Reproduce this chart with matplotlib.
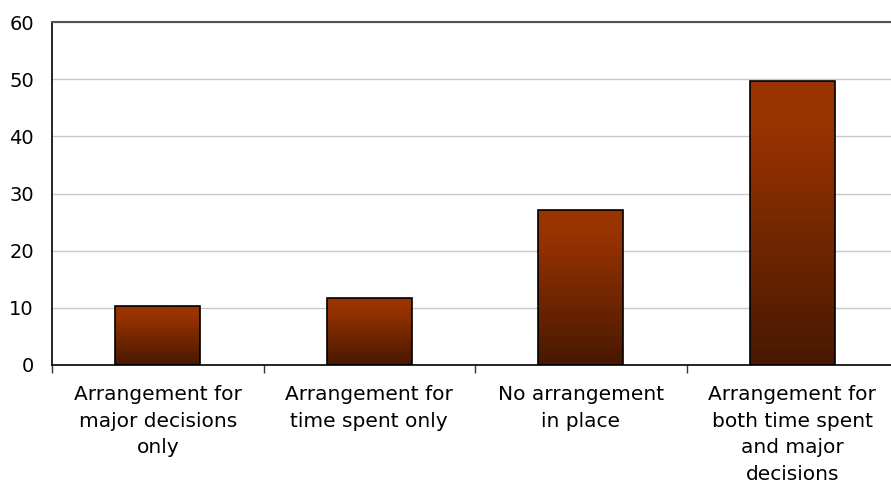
import numpy as np
import matplotlib.pyplot as plt
from matplotlib.colors import LinearSegmentedColormap

# dados
categorias = ['Arrangement for\nmajor decisions\nonly',
              'Arrangement for\ntime spent only',
              'No arrangement\nin place',
              'Arrangement for\nboth time spent\nand major\ndecisions']
valores = [10.3, 11.7, 27.1, 49.6]
yticks = [0, 10, 20, 30, 40, 50, 60]

plt.rcParams['font.family'] = ['DejaVu Sans']

fig = plt.figure(figsize=(8.91, 4.83), dpi=100)
ax = fig.add_axes([52 / 891, 1 - 365 / 483, 846 / 891, 343 / 483])

x = np.arange(len(valores))
barras = ax.bar(x, valores, width=0.4, facecolor='none', edgecolor='black',
                linewidth=1.2, zorder=3)

# gradiente vertical dentro de cada barra
cmap = LinearSegmentedColormap.from_list(
    'marrom', [(0, '#481800'), (0.85, '#993300'), (1, '#993300')])
grad = np.linspace(0, 1, 256).reshape(-1, 1)
for b in barras:
    x0, y0 = b.get_x(), b.get_y()
    w, h = b.get_width(), b.get_height()
    im = ax.imshow(grad, cmap=cmap, origin='lower', aspect='auto',
                   extent=[x0, x0 + w, y0, y0 + h], zorder=2)
    im.set_clip_path(b)

ax.set_xlim(-0.5, len(valores) - 0.5)
ax.set_ylim(0, 60)
ax.set_yticks(yticks)
ax.set_yticklabels([str(v) for v in yticks], fontsize=14)
ax.tick_params(axis='y', length=0, pad=13)

ax.set_xticks(np.arange(-0.5, len(valores), 1.0))
ax.set_xticklabels([])
ax.tick_params(axis='x', length=6, width=1, direction='out', color='#333333')
for xi, lab in zip(x, categorias):
    ax.text(xi, -3.5, lab, ha='center', va='top', fontsize=14.5,
            linespacing=1.5, clip_on=False)

ax.grid(axis='y', color='#c8c8c8', linewidth=1, zorder=0)
ax.set_axisbelow(True)
ax.spines['right'].set_visible(False)
ax.spines['top'].set_color('#555555')
ax.spines['top'].set_linewidth(1.5)
ax.spines['left'].set_linewidth(1.2)
ax.spines['bottom'].set_linewidth(1.2)

fig.savefig('out.png', dpi=100)
